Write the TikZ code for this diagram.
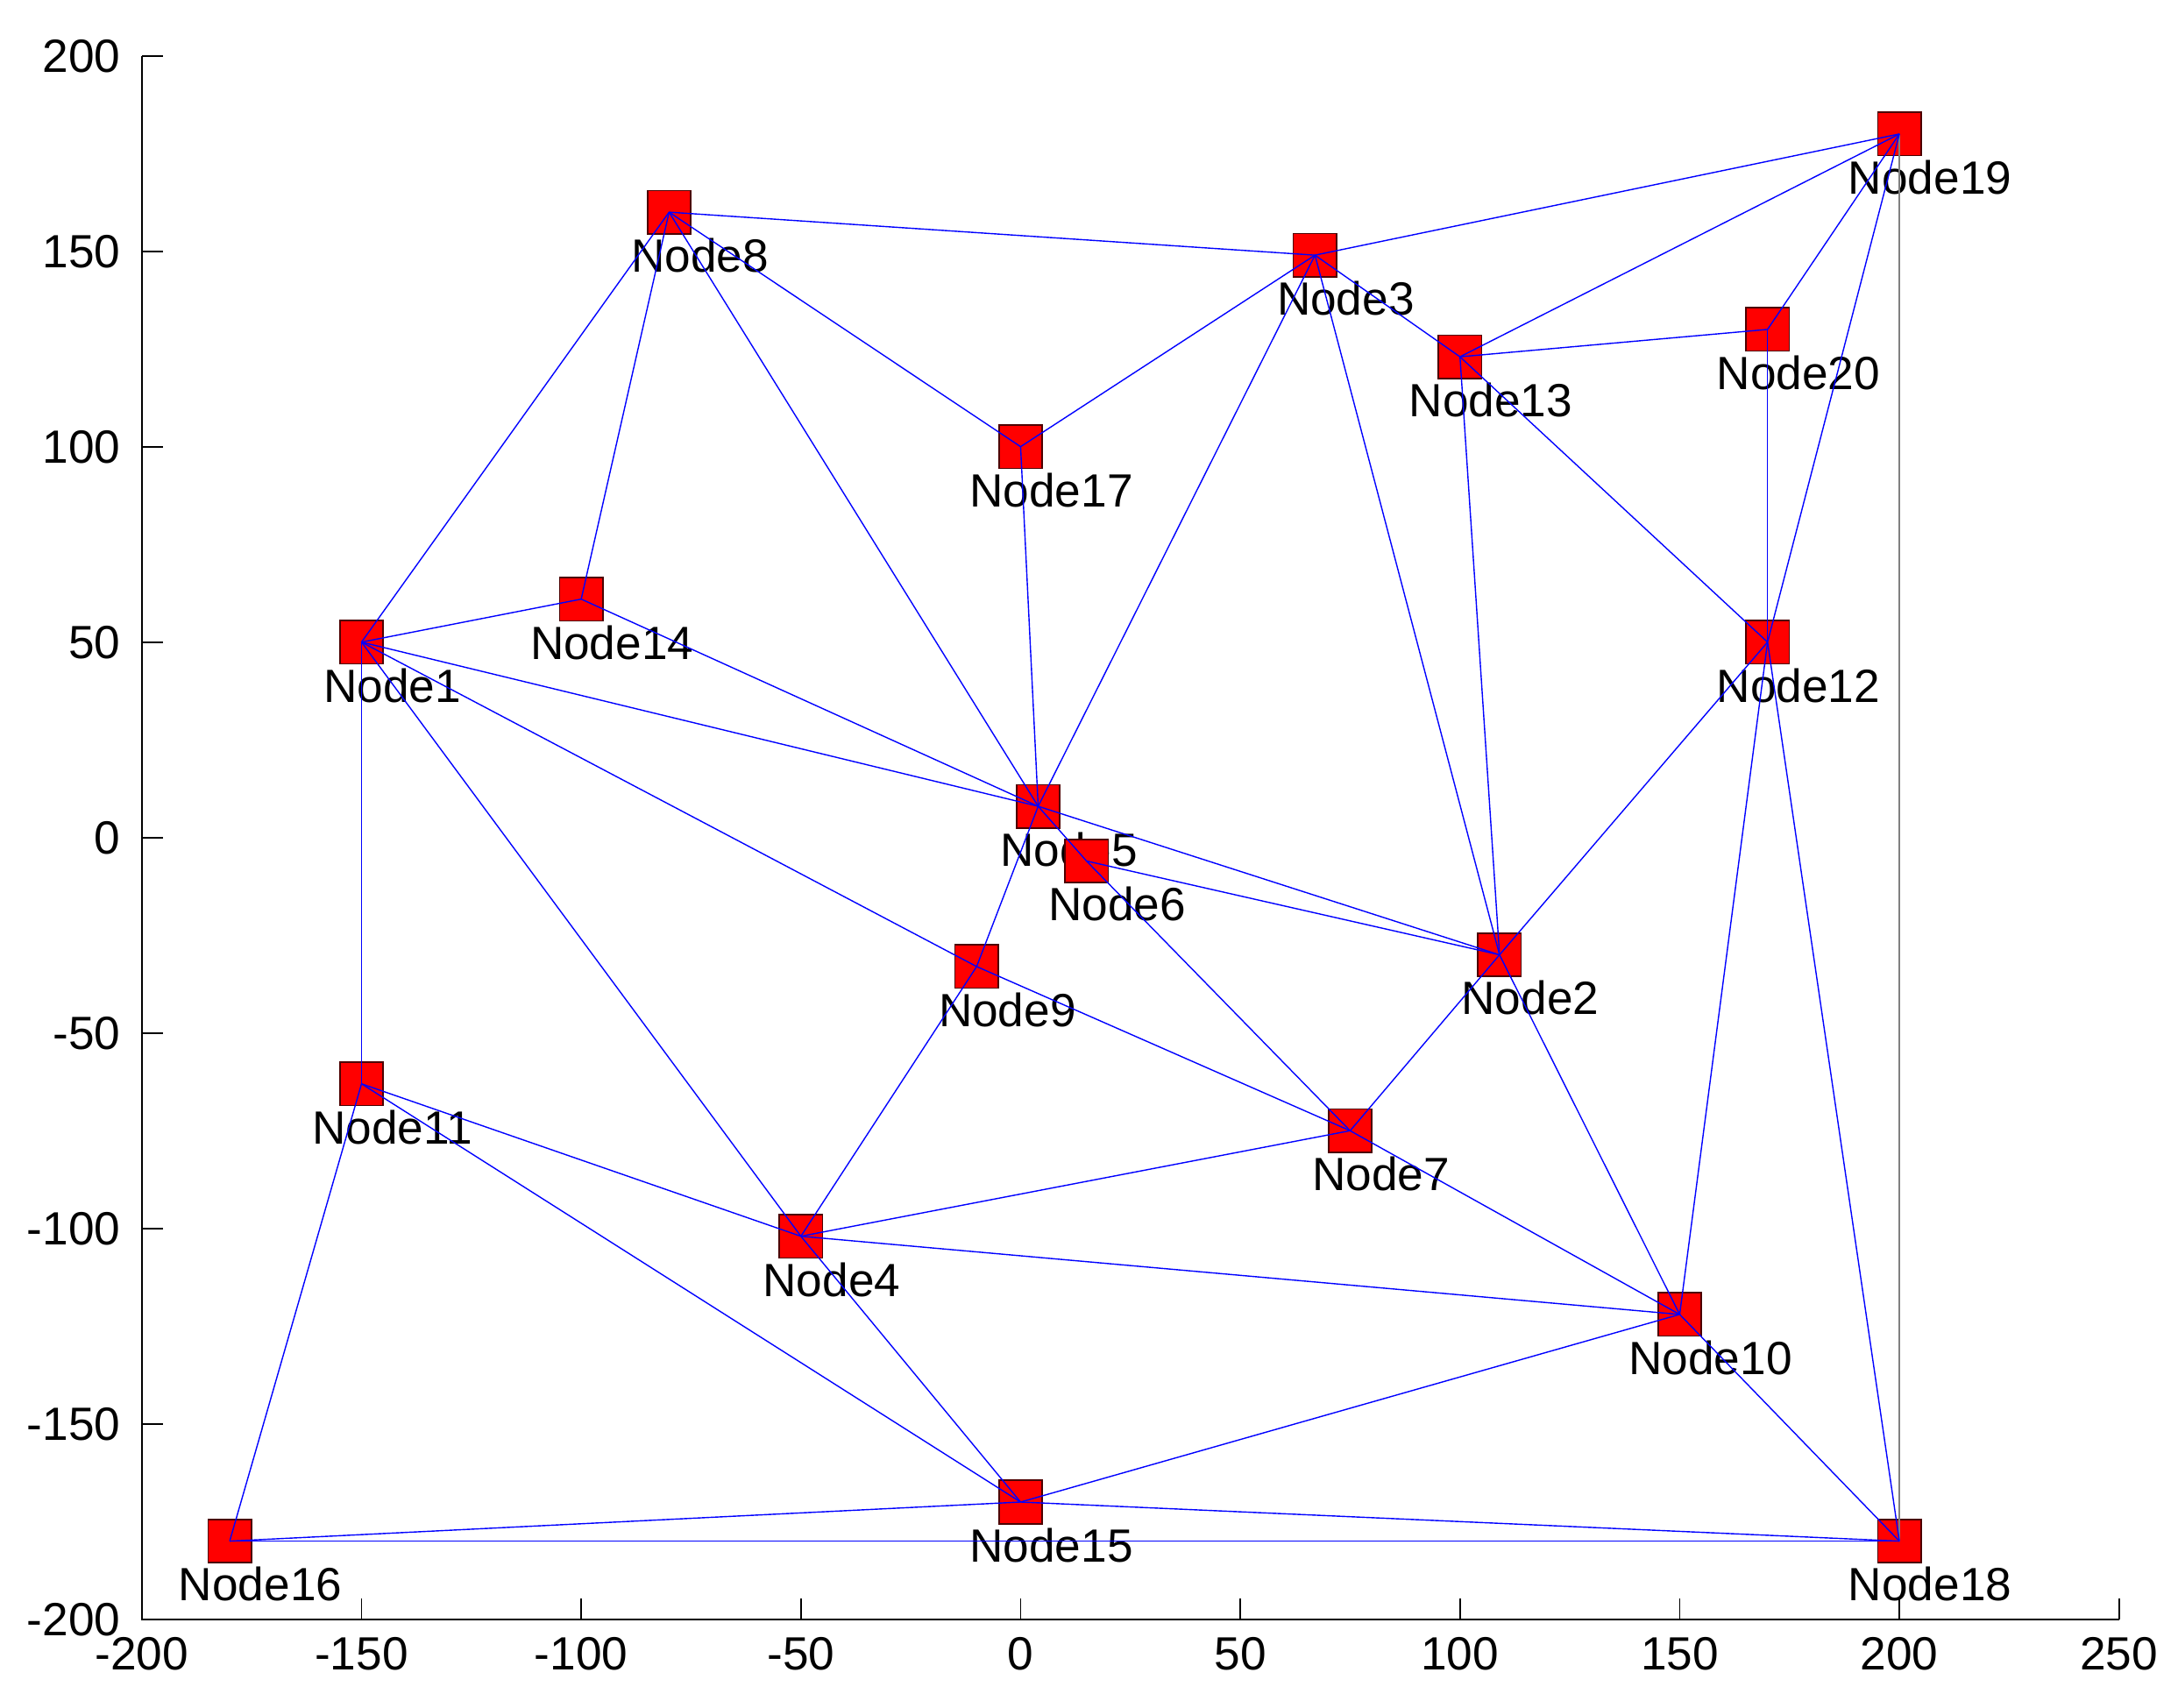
\documentclass[tikz,border=0pt]{standalone}
\usepackage{fontspec}
\setmainfont{Liberation Sans}
\begin{document}
\begin{tikzpicture}
\useasboundingbox (0,0) rectangle (31.2,24.46);
\tikzset{sq/.style={draw=black!70!red,fill=red,minimum size=0.62cm,inner sep=0pt,line width=0.6pt},
 lab/.style={font=\fontsize{19}{19}\selectfont,inner sep=0pt},
 ed/.style={blue,line width=0.5pt},
 tk/.style={font=\fontsize{19}{19}\selectfont,inner sep=0pt}}
\begin{scope}[shift={(14.62,12.46)},x=0.06294cm,y=0.056cm]
\foreach \n/\x/\y in {1/-150/50,2/109/-30,3/67/149,4/-50/-102,5/4/8,6/15/-6,7/75/-75,8/-80/160,9/-10/-33,10/150/-122,11/-150/-63,12/170/50,13/100/123,14/-100/61,15/0/-170,16/-180/-180,17/0/100,18/200/-180,19/200/180,20/170/130}
 \coordinate (n\n) at (\x,\y);
% axes
\draw[line width=0.6pt] (-200,200) -- (-200,-200) -- (250,-200);
\foreach \v in {-200,-150,...,200}{\draw[line width=0.6pt] (-200,\v) -- ++(0.3cm,0); \node[tk,anchor=east] at ([xshift=-0.3cm]-200,\v) {\v};}
\foreach \v in {-200,-150,...,250}{\draw[line width=0.6pt] (\v,-200) -- ++(0,0.3cm); \node[tk,anchor=north] at ([yshift=-0.25cm]\v,-200) {\v};}
% labels
\foreach \n in {1,...,20} \node[lab] (l\n) at ([xshift=0.44cm,yshift=-0.62cm]n\n) {Node\n};
% squares
\foreach \n in {1,...,20} \node[sq] (s\n) at (n\n) {};
% edges
\draw[gray,line width=0.5pt] (n19) -- (n18);
\foreach \a/\b in {8/3,3/19,8/17,17/3,8/1,8/14,8/5,14/1,14/5,1/5,1/9,1/4,1/11,5/17,5/3,5/2,5/6,5/9,6/2,6/7,9/7,9/4,3/13,3/2,13/19,13/20,13/12,13/2,20/19,20/12,12/19,12/2,12/10,12/18,2/7,2/10,7/4,7/10,4/10,4/11,4/15,11/15,11/16,16/15,16/18,15/18,15/10,10/18}
 \draw[ed] (n\a) -- (n\b);
\end{scope}
\end{tikzpicture}
\end{document}
